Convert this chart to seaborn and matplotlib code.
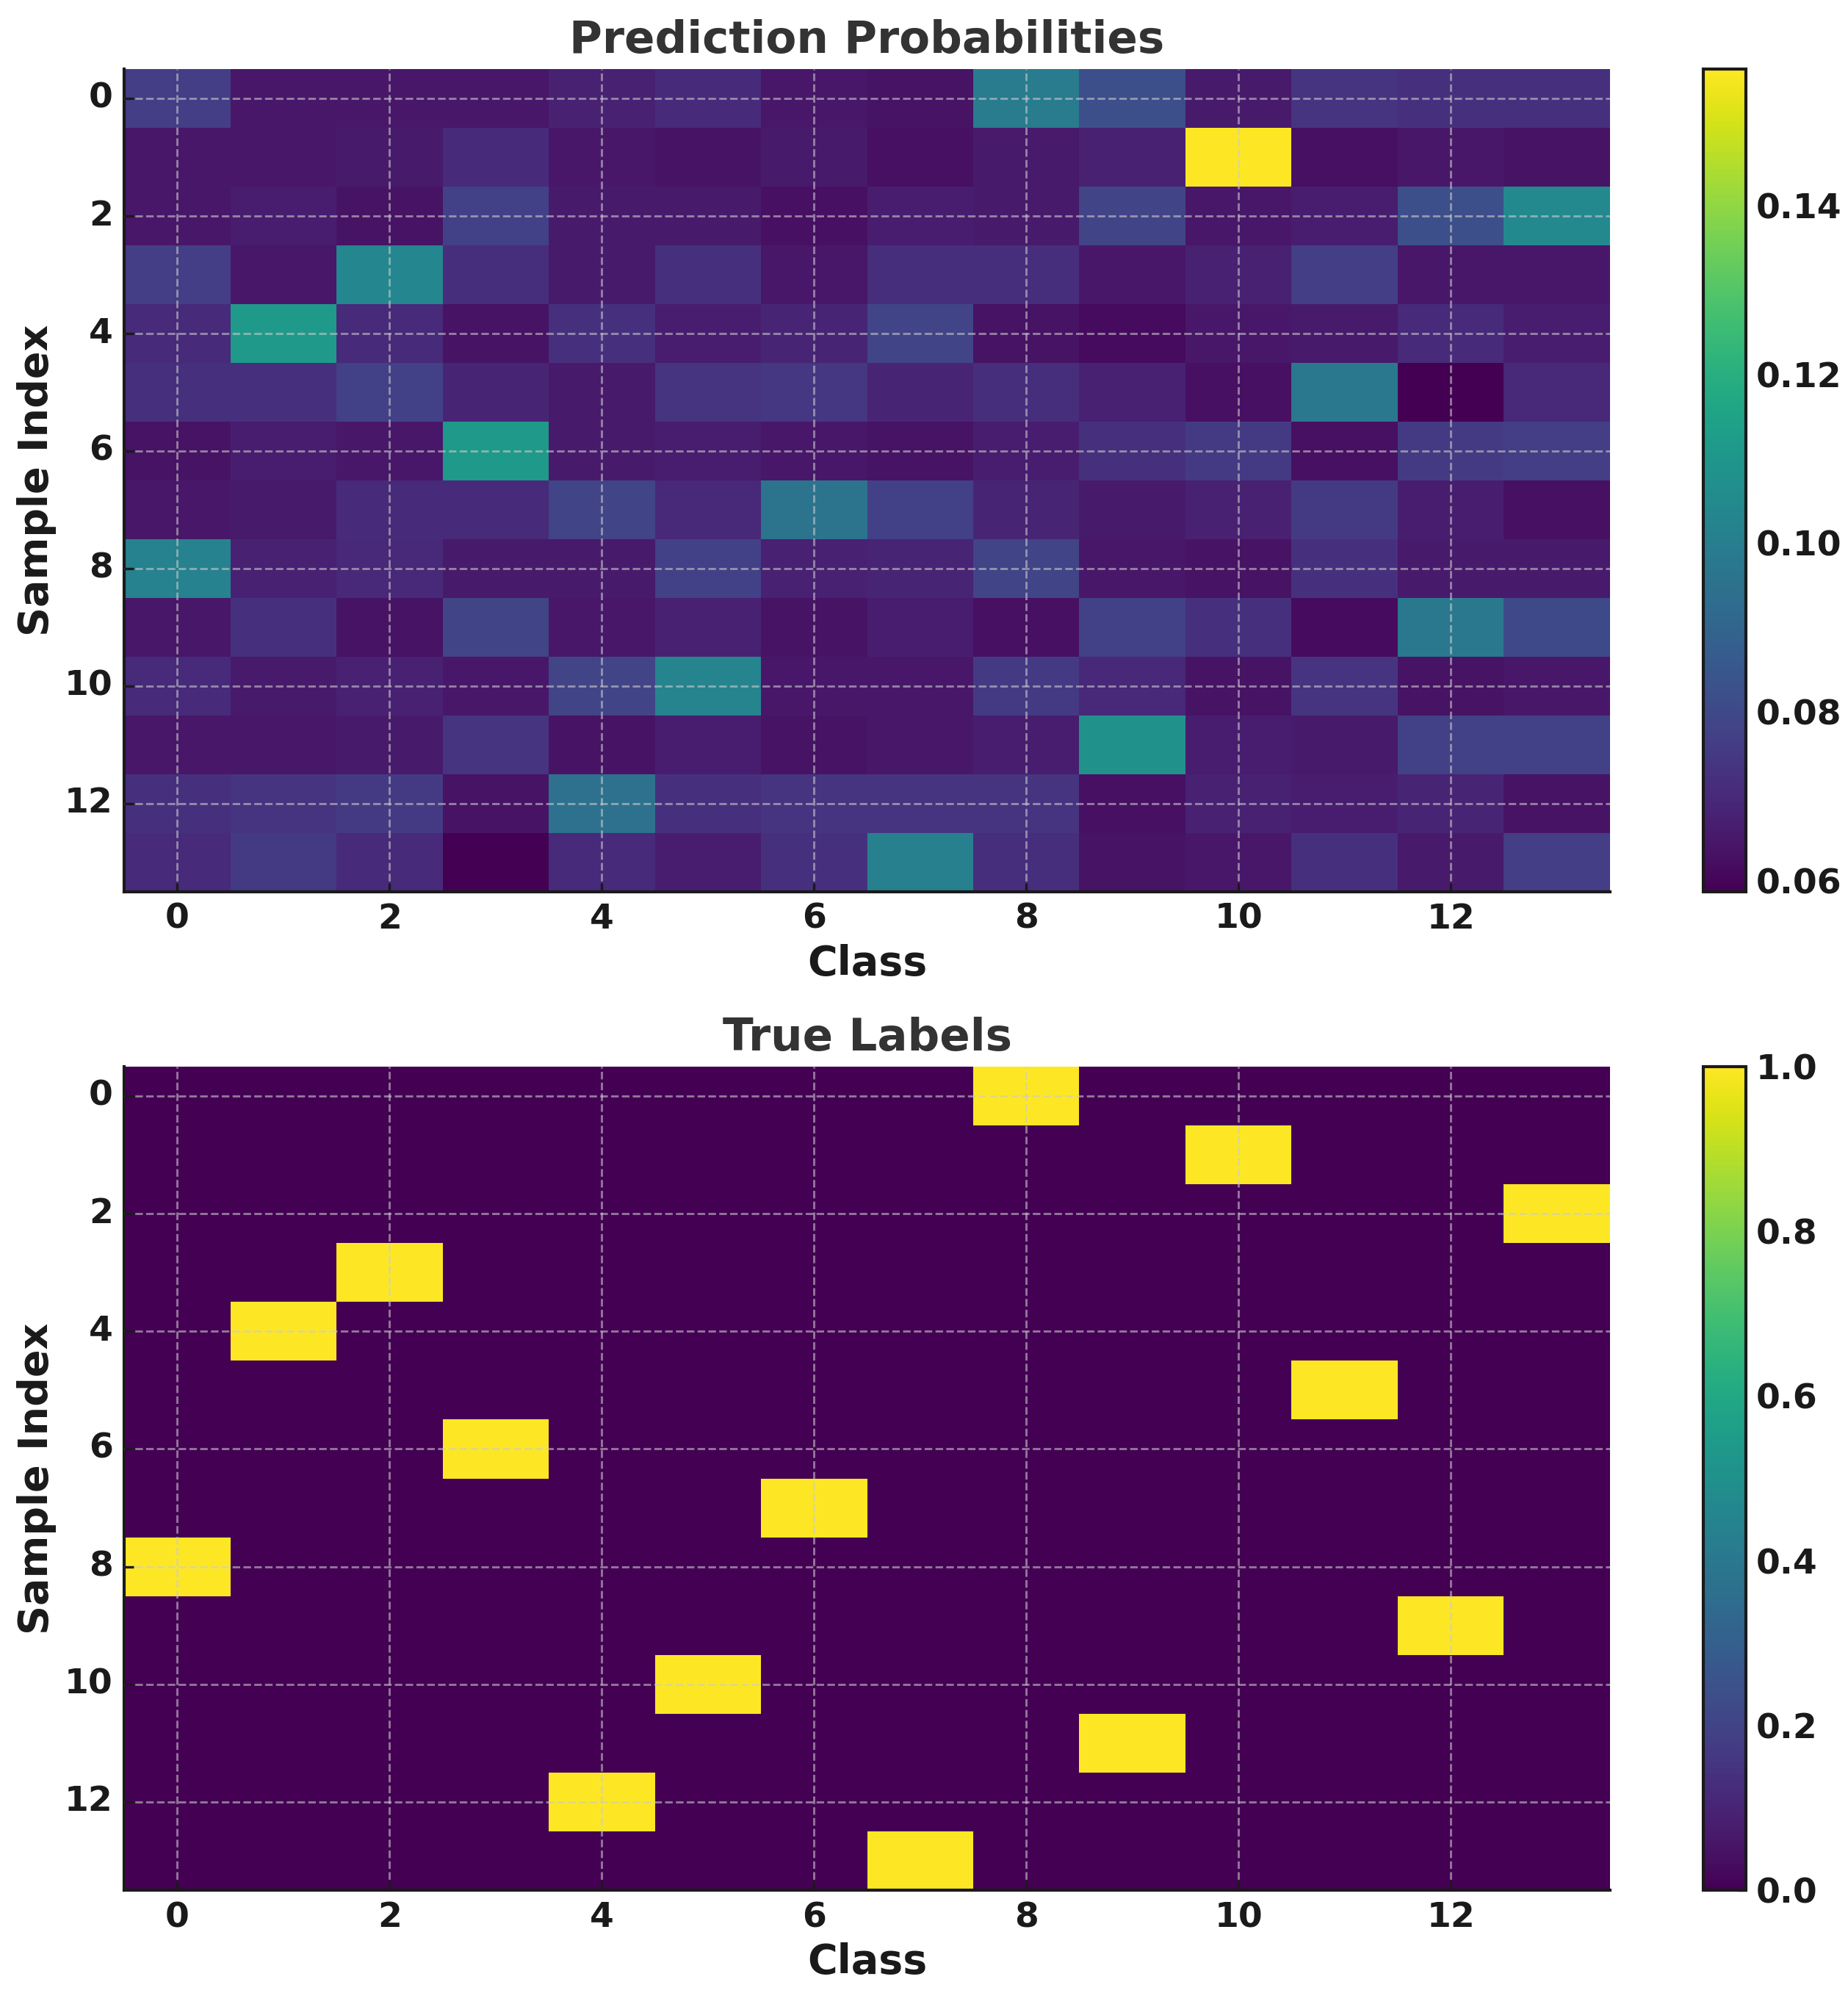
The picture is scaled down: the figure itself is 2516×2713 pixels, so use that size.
import numpy as np
import pandas as pd
import matplotlib
matplotlib.use("Agg")
import matplotlib.pyplot as plt
import matplotlib.ticker as mticker
import seaborn as sns

# predicted class probabilities, one row per sample
prob_rows = [
    [0.0763, 0.0646, 0.0646, 0.0646, 0.0675, 0.0704, 0.0646, 0.0636, 0.0987, 0.0821, 0.0655, 0.0733, 0.0724, 0.0724],
    [0.0646, 0.0646, 0.0655, 0.0704, 0.0646, 0.0636, 0.0655, 0.0626, 0.0655, 0.0675, 0.1562, 0.0626, 0.0646, 0.0636],
    [0.0646, 0.0665, 0.0636, 0.0772, 0.0655, 0.0655, 0.0626, 0.0665, 0.0655, 0.0782, 0.0646, 0.0665, 0.0821, 0.1045],
    [0.0763, 0.0646, 0.1036, 0.0714, 0.0655, 0.0724, 0.0646, 0.0714, 0.0714, 0.0646, 0.0675, 0.0763, 0.0646, 0.0646],
    [0.0704, 0.1114, 0.0704, 0.0636, 0.0724, 0.0665, 0.0685, 0.0782, 0.0636, 0.0616, 0.0646, 0.0655, 0.0704, 0.0665],
    [0.0724, 0.0724, 0.0772, 0.0685, 0.0655, 0.0733, 0.0743, 0.0685, 0.0714, 0.0675, 0.0626, 0.0977, 0.0587, 0.0694],
    [0.0636, 0.0665, 0.0646, 0.1114, 0.0655, 0.0665, 0.0646, 0.0636, 0.0665, 0.0724, 0.0753, 0.0626, 0.0753, 0.0763],
    [0.0646, 0.0655, 0.0704, 0.0704, 0.0782, 0.0694, 0.0958, 0.0772, 0.0685, 0.0655, 0.0675, 0.0753, 0.0665, 0.0626],
    [0.1016, 0.0675, 0.0694, 0.0655, 0.0655, 0.0772, 0.0675, 0.0685, 0.0782, 0.0646, 0.0636, 0.0724, 0.0655, 0.0655],
    [0.0646, 0.0724, 0.0636, 0.0782, 0.0646, 0.0675, 0.0636, 0.0665, 0.0626, 0.0772, 0.0724, 0.0616, 0.0977, 0.0802],
    [0.0704, 0.0655, 0.0675, 0.0646, 0.0782, 0.1026, 0.0646, 0.0646, 0.0753, 0.0694, 0.0636, 0.0733, 0.0636, 0.0646],
    [0.0646, 0.0646, 0.0655, 0.0733, 0.0636, 0.0665, 0.0636, 0.0646, 0.0665, 0.1075, 0.0665, 0.0655, 0.0772, 0.0772],
    [0.0724, 0.0733, 0.0753, 0.0636, 0.0948, 0.0724, 0.0733, 0.0733, 0.0733, 0.0626, 0.0675, 0.0665, 0.0685, 0.0636],
    [0.0704, 0.0753, 0.0704, 0.0587, 0.0704, 0.0665, 0.0724, 0.1006, 0.0714, 0.0636, 0.0646, 0.0724, 0.0655, 0.0763],
]

# true class of each sample
true_classes = [8, 10, 13, 2, 1, 11, 3, 6, 0, 12, 5, 9, 4, 7]

n_classes = 14
classes = list(range(n_classes))
samples = list(range(len(true_classes)))
tick_vals = [0, 2, 4, 6, 8, 10, 12]

probs = pd.DataFrame(prob_rows, index=samples, columns=classes)
onehot = pd.DataFrame(np.eye(n_classes)[true_classes], index=samples, columns=classes)

sns.set_theme(style="ticks")
plt.rcParams.update({
    "font.family": ["DejaVu Sans"],
    "font.weight": "bold",
    "axes.labelweight": "bold",
    "axes.titleweight": "bold",
    "text.color": "#1a1a1a",
    "axes.labelcolor": "#1a1a1a",
    "xtick.color": "#1a1a1a",
    "ytick.color": "#1a1a1a",
})

fig = plt.figure(figsize=(12.58, 13.565), dpi=200)
ax1 = fig.add_axes([0.0672, 0.5527, 0.8040, 0.4125])
cax1 = fig.add_axes([0.9217, 0.5527, 0.0231, 0.4125])
ax2 = fig.add_axes([0.0672, 0.0516, 0.8040, 0.4132])
cax2 = fig.add_axes([0.9217, 0.0516, 0.0231, 0.4132])


def draw(ax, cax, data, title, step):
    sns.heatmap(data, ax=ax, cbar_ax=cax, cmap="viridis")
    ax.set_xticks([v + 0.5 for v in tick_vals])
    ax.set_xticklabels(tick_vals, rotation=0)
    ax.set_yticks([v + 0.5 for v in tick_vals])
    ax.set_yticklabels(tick_vals, rotation=0)
    ax.tick_params(direction="in", length=4.5, width=1.2, pad=5.5,
                   labelsize=17, bottom=True, left=True)
    for lab in ax.get_xticklabels() + ax.get_yticklabels():
        lab.set_fontweight("bold")
    ax.set_axisbelow(False)
    ax.grid(True, linestyle="--", color="#cccccc", alpha=0.6, linewidth=1.0)
    for side in ["left", "bottom"]:
        ax.spines[side].set_visible(True)
        ax.spines[side].set_color("#1a1a1a")
        ax.spines[side].set_linewidth(1.5)
    ax.set_title(title, fontsize=22, color="#333333", pad=8)
    ax.set_xlabel("Class", fontsize=20)
    ax.set_ylabel("Sample Index", fontsize=20)

    cbar = ax.collections[0].colorbar
    cbar.outline.set_visible(True)
    cbar.outline.set_linewidth(1.5)
    cbar.outline.set_edgecolor("#1a1a1a")
    cbar.locator = mticker.MultipleLocator(step)
    cbar.formatter = mticker.ScalarFormatter()
    cbar.update_ticks()
    cax.tick_params(direction="in", length=4.5, width=1.2, pad=5,
                    labelsize=17, right=True)
    for lab in cax.get_yticklabels():
        lab.set_fontweight("bold")


draw(ax1, cax1, probs, "Prediction Probabilities", 0.02)
draw(ax2, cax2, onehot, "True Labels", 0.2)

fig.savefig("out.png", dpi=200)
